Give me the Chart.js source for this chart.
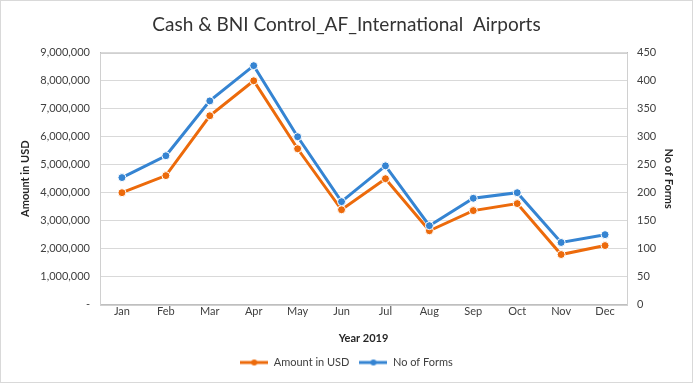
<!DOCTYPE html>
<html>
<head>
<meta charset="utf-8">
<script src="https://cdn.jsdelivr.net/npm/chart.js@4"></script>
<style>
  html, body { margin: 0; padding: 0; background: #fff; }
  #wrap { width: 691px; height: 381px; border: 1px solid #d9d9d9; }
</style>
</head>
<body>
<div id="wrap"><canvas id="chart" width="691" height="381"></canvas></div>
<script>
// month labels and the two series
const months = ['Jan', 'Feb', 'Mar', 'Apr', 'May', 'Jun', 'Jul', 'Aug', 'Sep', 'Oct', 'Nov', 'Dec'];
const amountUsd = [4000000, 4610000, 6750000, 8000000, 5570000, 3390000, 4500000, 2640000, 3360000, 3610000, 1790000, 2110000];
const numForms = [227, 266, 364, 427, 300, 184, 248, 141, 190, 200, 111, 125];

const orange = '#ec6a0b';
const blue = '#3584d2';
const font = 'Lato, "Open Sans", sans-serif';

// little line-with-dot picture for the legend
function legendIcon(color) {
    const c = document.createElement('canvas');
    c.width = 28; c.height = 8;
    const g = c.getContext('2d');
    g.strokeStyle = color;
    g.lineWidth = 3;
    g.beginPath(); g.moveTo(0, 4); g.lineTo(28, 4); g.stroke();
    g.fillStyle = color;
    g.beginPath(); g.arc(14, 4, 3, 0, Math.PI * 2); g.fill();
    return c;
}

new Chart(document.getElementById('chart'), {
    type: 'line',
    data: {
        labels: months,
        datasets: [{
            label: 'Amount in USD',
            data: amountUsd,
            yAxisID: 'y',
            borderColor: orange,
            backgroundColor: orange,
            pointBorderColor: '#fff',
            pointBorderWidth: 1,
            pointRadius: 4,
            borderWidth: 3,
            order: 1
        }, {
            label: 'No of Forms',
            data: numForms,
            yAxisID: 'y1',
            borderColor: blue,
            backgroundColor: blue,
            pointBorderColor: '#fff',
            pointBorderWidth: 1,
            pointRadius: 4,
            borderWidth: 3,
            order: 0
        }]
    },
    options: {
        responsive: false,
        animation: false,
        layout: { padding: { top: 0, right: 0, bottom: 4, left: 0 } },
        plugins: {
            title: {
                display: true,
                text: 'Cash & BNI Control_AF_International  Airports',
                color: '#333',
                font: { family: font, size: 19, weight: 'normal' },
                padding: { top: 12, bottom: 17 }
            },
            legend: {
                position: 'bottom',
                labels: {
                    color: '#404040',
                    font: { family: font, size: 11 },
                    usePointStyle: true,
                    pointStyleWidth: 28,
                    padding: 10,
                    generateLabels: (chart) => chart.data.datasets.map((ds, i) => ({
                        text: ds.label,
                        pointStyle: legendIcon(ds.borderColor),
                        fontColor: '#404040',
                        lineWidth: 0,
                        datasetIndex: i
                    }))
                }
            },
            tooltip: { enabled: false }
        },
        scales: {
            x: {
                offset: true,
                grid: { display: false, drawTicks: false },
                border: { color: '#bfbfbf' },
                ticks: { color: '#404040', font: { family: font, size: 11 }, padding: 0 },
                title: {
                    display: true,
                    text: 'Year 2019',
                    color: '#262626',
                    font: { family: font, size: 11, weight: 'bold' },
                    padding: { top: 14, bottom: 2 }
                }
            },
            y: {
                position: 'left',
                min: 0,
                max: 9000000,
                ticks: {
                    stepSize: 1000000,
                    color: '#404040',
                    font: { family: font, size: 11 },
                    padding: 10,
                    callback: (v) => v === 0 ? '-' : v.toLocaleString('en-US')
                },
                grid: { color: '#d9d9d9', drawTicks: false },
                border: { color: '#bfbfbf' },
                title: {
                    display: true,
                    text: 'Amount in USD',
                    color: '#262626',
                    font: { family: font, size: 11, weight: 'bold' },
                    padding: { top: 18, bottom: 4 }
                },
                afterFit: (s) => { s.width = 99; }
            },
            y1: {
                position: 'right',
                min: 0,
                max: 450,
                ticks: {
                    stepSize: 50,
                    color: '#404040',
                    font: { family: font, size: 11 },
                    padding: 10
                },
                grid: { display: false, drawTicks: false },
                border: { color: '#bfbfbf' },
                title: {
                    display: true,
                    text: 'No of Forms',
                    color: '#262626',
                    font: { family: font, size: 11, weight: 'bold' },
                    padding: { top: 17, bottom: 4 }
                },
                afterFit: (s) => { s.width = 65; }
            }
        }
    },
    plugins: [{
        // light frame round the plot area
        id: 'plotFrame',
        afterDraw(chart) {
            const { ctx, chartArea: a } = chart;
            ctx.save();
            ctx.strokeStyle = '#d0d0d0';
            ctx.lineWidth = 1;
            ctx.strokeRect(Math.round(a.left) + 0.5, Math.round(a.top) + 0.5, Math.round(a.width), Math.round(a.height));
            ctx.restore();
        }
    }]
});
</script>
</body>
</html>
